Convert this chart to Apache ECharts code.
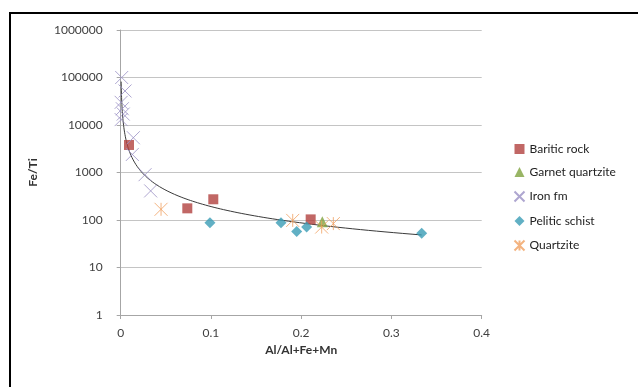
<!DOCTYPE html>
<html><head><meta charset="utf-8">
<script src="https://cdn.jsdelivr.net/npm/echarts@6/dist/echarts.min.js"></script>
<style>html,body{margin:0;padding:0;background:#fff}#c{width:638px;height:387px}</style>
</head><body><div id="c"></div>
<script>
// Data: [Al/(Al+Fe+Mn), Fe/Ti]
const seriesNames = ['Baritic rock','Garnet quartzite','Iron fm','Pelitic schist','Quartzite'];
const baritic = [[0.0092,3800],[0.0738,176],[0.1026,273],[0.2105,103]];
const garnet = [[0.2234,92]];
const ironFm = [[0.0011,100000],[0.0048,52000],[0.0005,30000],[0.0018,22000],[0.0028,17000],[0.0005,13000],[0.014,5400],[0.0129,2400],[0.027,900],[0.0332,410]];
const pelitic = [[0.0989,88],[0.1776,88],[0.195,57],[0.206,71],[0.3335,52.5]];
const quartzite = [[0.0447,168],[0.1906,98],[0.2227,71],[0.2356,84]];
const xTicks = [0,0.1,0.2,0.3,0.4];
const yTicks = [1,10,100,1000,10000,100000,1000000];

// Power trendline (least squares on ln-ln), as in a spreadsheet power fit
const all = [].concat(baritic,garnet,ironFm,pelitic,quartzite);
let n=all.length,sx=0,sy=0,sxx=0,sxy=0;
all.forEach(p=>{const lx=Math.log(p[0]),ly=Math.log(p[1]);sx+=lx;sy+=ly;sxx+=lx*lx;sxy+=lx*ly;});
const b=(n*sxy-sx*sy)/(n*sxx-sx*sx);
const a=Math.exp((sy-b*sx)/n);
const xmin=Math.min(...all.map(p=>p[0])), xmax=Math.max(...all.map(p=>p[0]));
const trend=[];
for(let i=0;i<=200;i++){const x=xmin*Math.pow(xmax/xmin,i/200);trend.push([x,a*Math.pow(x,b)]);}

const font='Lato, "Open Sans", sans-serif';
const xPath='path://M0,0L10,10M10,0L0,10';
const starPath='path://M0,0L10,10M10,0L0,10M5,0L5,10';
const chart=echarts.init(document.getElementById('c'),null,{renderer:'canvas'});
chart.setOption({
  animation:false,
  backgroundColor:'#fff',
  textStyle:{fontFamily:font},
  graphic:[{type:'rect',shape:{x:10,y:13,width:700,height:500},style:{fill:'none',stroke:'#000',lineWidth:2},silent:true}],
  grid:{left:120.7,right:156.3,top:30,bottom:72},
  legend:{orient:'vertical',left:507,top:138,itemWidth:10,itemHeight:10,itemGap:11,
    data:seriesNames,textStyle:{fontFamily:font,fontSize:12,color:'#222'}},
  xAxis:{type:'value',min:0,max:0.4,interval:0.1,
    name:'Al/Al+Fe+Mn',nameLocation:'middle',nameGap:27,
    nameTextStyle:{fontFamily:font,fontSize:12,fontWeight:'bold',color:'#333'},
    axisLine:{show:true,lineStyle:{color:'#a6a6a6'}},
    axisTick:{show:true,length:4,lineStyle:{color:'#a6a6a6'}},
    splitLine:{show:false},
    axisLabel:{margin:12,fontSize:12,color:'#404040',formatter:v=>String(+v.toFixed(1))}},
  yAxis:{type:'log',logBase:10,min:yTicks[0],max:yTicks[yTicks.length-1],
    name:'Fe/Ti',nameLocation:'middle',nameGap:82,nameRotate:90,
    nameTextStyle:{fontFamily:font,fontSize:12,fontWeight:'bold',color:'#333'},
    axisLine:{show:true,lineStyle:{color:'#a6a6a6'}},
    axisTick:{show:true,length:4,lineStyle:{color:'#a6a6a6'}},
    splitLine:{show:true,lineStyle:{color:'#c4c4c4'}},
    minorTick:{show:false},
    axisLabel:{margin:18,fontSize:12,color:'#404040',formatter:v=>String(Math.round(v))}},
  series:[
    {name:'Trend',type:'line',data:trend,showSymbol:false,symbol:'none',smooth:false,
      lineStyle:{color:'#3a3a3a',width:1},z:3,silent:true},
    {name:'Baritic rock',type:'scatter',data:baritic,symbol:'rect',symbolSize:10,
      itemStyle:{color:'#B2413E'},z:4},
    {name:'Garnet quartzite',type:'scatter',data:garnet,symbol:'triangle',symbolSize:11,
      itemStyle:{color:'#7FA33F'},z:4},
    {name:'Iron fm',type:'scatter',data:ironFm,symbol:xPath,symbolSize:13,
      itemStyle:{color:'none',borderColor:'#9a90c4',borderWidth:1},z:4},
    {name:'Pelitic schist',type:'scatter',data:pelitic,symbol:'diamond',symbolSize:11,
      itemStyle:{color:'#3A9CB5'},z:4},
    {name:'Quartzite',type:'scatter',data:quartzite,symbol:starPath,symbolSize:13,
      itemStyle:{color:'none',borderColor:'#F0A060',borderWidth:1},z:4}
  ]
});
</script></body></html>
